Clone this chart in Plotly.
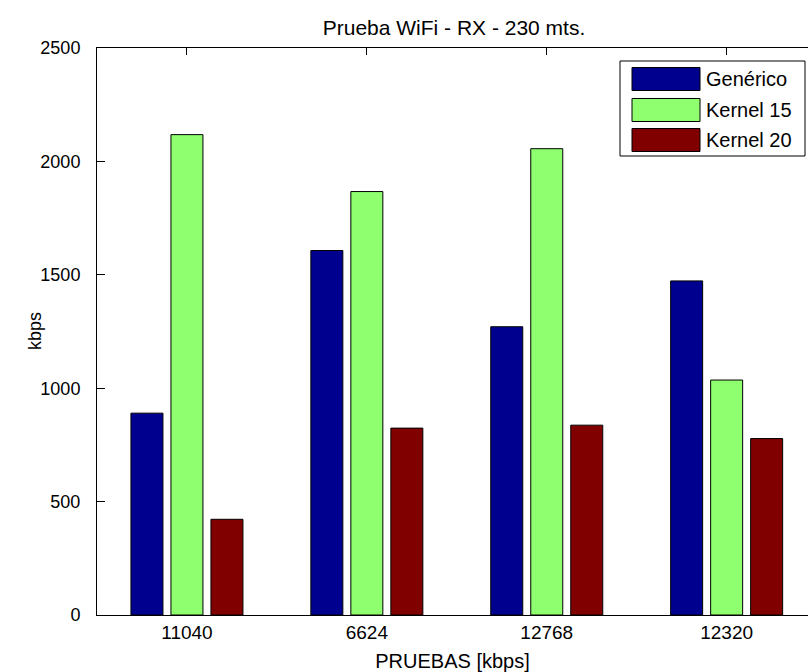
import plotly.graph_objects as go

categories = ["11040", "6624", "12768", "12320"]
generico = [890, 1607, 1271, 1473]
kernel15 = [2118, 1867, 2056, 1036]
kernel20 = [422, 824, 837, 778]
series_names = ["Genérico", "Kernel 15", "Kernel 20"]
series_colors = ["#00008F", "#8FFF70", "#800000"]
y_ticks = [0, 500, 1000, 1500, 2000, 2500]

FONT = "Liberation Sans, Arial, Helvetica, sans-serif"
W, H = 808, 672
L, R, T, B = 97, 0, 48, 57
PW, PH = W - L - R, H - T - B


def px(x):
    return (x - L) / PW


def py(y):
    return (H - B - y) / PH


fig = go.Figure()
for name, vals, col in zip(series_names, [generico, kernel15, kernel20], series_colors):
    fig.add_trace(go.Bar(
        x=categories, y=vals, name=name, showlegend=False,
        marker=dict(color=col, line=dict(color="black", width=1)),
    ))

# custom MATLAB-style legend box
shapes = [dict(type="rect", xref="paper", yref="paper",
               x0=px(620), x1=px(805), y0=py(156), y1=py(61),
               fillcolor="white", line=dict(color="black", width=1))]
annotations = []
row_centers = [79, 110, 140]
for name, col, yc in zip(series_names, series_colors, row_centers):
    shapes.append(dict(type="rect", xref="paper", yref="paper",
                       x0=px(632), x1=px(700), y0=py(yc + 11.5), y1=py(yc - 11.5),
                       fillcolor=col, line=dict(color="black", width=1)))
    annotations.append(dict(text=name, xref="paper", yref="paper",
                            x=px(704), y=py(yc), xanchor="left", yanchor="middle",
                            showarrow=False, font=dict(family=FONT, size=20, color="black")))

# y-axis label placed like MATLAB's
annotations.append(dict(text="kbps", xref="paper", yref="paper", x=px(35), y=py(331),
                        xanchor="center", yanchor="middle", textangle=-90, showarrow=False,
                        font=dict(family=FONT, size=18, color="black")))

fig.update_layout(
    width=W, height=H,
    margin=dict(l=L, r=R, t=T, b=B, autoexpand=False),
    paper_bgcolor="white", plot_bgcolor="white",
    barmode="group", bargap=0.333, bargroupgap=0.2,
    font=dict(family=FONT, size=18, color="black"),
    title=dict(text="Prueba WiFi - RX - 230 mts.", xref="container", yref="container",
               x=454 / W, y=1 - 28 / H, xanchor="center", yanchor="middle",
               font=dict(family=FONT, size=21, color="black")),
    xaxis=dict(type="category", range=[-0.5, -0.5 + PW / 179.9],
               showline=True, linecolor="black", linewidth=1, mirror="ticks",
               ticks="inside", ticklen=7, tickcolor="black", showgrid=False,
               zeroline=False, layer="below traces",
               tickfont=dict(family=FONT, size=19, color="black"),
               title=dict(text="PRUEBAS [kbps]", standoff=12,
                          font=dict(family=FONT, size=20, color="black"))),
    yaxis=dict(range=[0, 2500], tickvals=y_ticks,
               showline=True, linecolor="black", linewidth=1, mirror=False,
               ticks="inside", ticklen=8, tickcolor="black", showgrid=False,
               zeroline=False, layer="below traces", ticklabelstandoff=12,
               tickfont=dict(family=FONT, size=18, color="black")),
    shapes=shapes, annotations=annotations,
)

fig.write_html("out.html")
